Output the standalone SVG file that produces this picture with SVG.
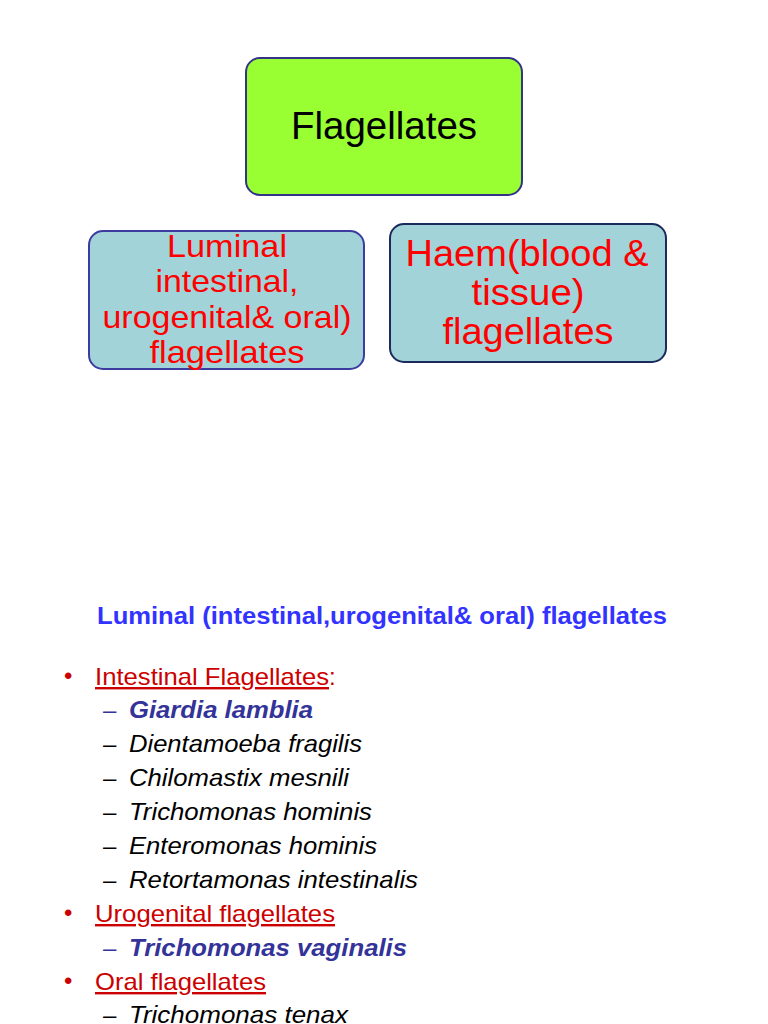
<svg xmlns="http://www.w3.org/2000/svg" width="768" height="1024" viewBox="0 0 768 1024">
<style>
text{font-family:"Liberation Sans",Arial,sans-serif}
.box{stroke-width:2}
.red{fill:#ff0000;font-size:32px;text-anchor:middle}
.haem{fill:#ff0000;font-size:37px;text-anchor:middle}
.head{fill:#cc0000;font-size:24px;text-decoration:underline}
.bul{fill:#cc0000;font-size:24px}
.sp{fill:#000;font-size:24px;font-style:italic}
.bb{fill:#333399;font-weight:bold}
.dash{font-size:24px;fill:#000}
</style>
<rect width="768" height="1024" fill="#fff"/>
<g id="flagellates">
<rect class="box" x="246" y="58" width="276" height="137" rx="14" fill="#99ff33" stroke="#333388"/>
<text x="384" y="139" font-size="38" text-anchor="middle" fill="#000" textLength="186" lengthAdjust="spacingAndGlyphs">Flagellates</text>
</g>
<g id="luminal">
<rect class="box" x="89" y="231" width="275" height="138" rx="14" fill="#a1d3d8" stroke="#3c3ca0"/>
<text class="red" x="227" y="257" textLength="120" lengthAdjust="spacingAndGlyphs">Luminal</text>
<text class="red" x="227" y="292" textLength="143" lengthAdjust="spacingAndGlyphs">intestinal,</text>
<text class="red" x="227" y="328" textLength="249" lengthAdjust="spacingAndGlyphs">urogenital&amp; oral)</text>
<text class="red" x="227" y="363" textLength="155" lengthAdjust="spacingAndGlyphs">flagellates</text>
</g>
<g id="haem">
<rect class="box" x="390" y="224" width="276" height="138" rx="14" fill="#a1d3d8" stroke="#1c2a5c"/>
<text class="haem" x="527" y="266" textLength="243" lengthAdjust="spacingAndGlyphs">Haem(blood &amp;</text>
<text class="haem" x="528" y="305" textLength="113" lengthAdjust="spacingAndGlyphs">tissue)</text>
<text class="haem" x="528" y="344" textLength="171" lengthAdjust="spacingAndGlyphs">flagellates</text>
</g>
<g id="connectors"></g>
<g id="list">
<text x="382" y="624" font-size="24" font-weight="bold" fill="#3333ff" text-anchor="middle" textLength="570" lengthAdjust="spacingAndGlyphs">Luminal (intestinal,urogenital&amp; oral) flagellates</text>
<text class="bul" x="64" y="684">•</text>
<text class="head" x="95" y="685" textLength="234" lengthAdjust="spacingAndGlyphs">Intestinal Flagellates</text>
<text x="329" y="685" font-size="24" fill="#cc0000">:</text>
<text class="dash" x="103" y="718" style="fill:#333399">–</text>
<text class="sp bb" x="129" y="718" textLength="184" lengthAdjust="spacingAndGlyphs">Giardia lamblia</text>
<text class="dash" x="103" y="752">–</text>
<text class="sp" x="129" y="752" textLength="233" lengthAdjust="spacingAndGlyphs">Dientamoeba fragilis</text>
<text class="dash" x="103" y="786">–</text>
<text class="sp" x="129" y="786" textLength="220" lengthAdjust="spacingAndGlyphs">Chilomastix mesnili</text>
<text class="dash" x="103" y="820">–</text>
<text class="sp" x="129" y="820" textLength="243" lengthAdjust="spacingAndGlyphs">Trichomonas hominis</text>
<text class="dash" x="103" y="854">–</text>
<text class="sp" x="129" y="854" textLength="248" lengthAdjust="spacingAndGlyphs">Enteromonas hominis</text>
<text class="dash" x="103" y="888">–</text>
<text class="sp" x="129" y="888" textLength="289" lengthAdjust="spacingAndGlyphs">Retortamonas intestinalis</text>
<text class="bul" x="64" y="921">•</text>
<text class="head" x="95" y="922" textLength="240" lengthAdjust="spacingAndGlyphs">Urogenital flagellates</text>
<text class="dash" x="103" y="956" style="fill:#333399">–</text>
<text class="sp bb" x="129" y="956" textLength="278" lengthAdjust="spacingAndGlyphs">Trichomonas vaginalis</text>
<text class="bul" x="64" y="989">•</text>
<text class="head" x="95" y="990" textLength="171" lengthAdjust="spacingAndGlyphs">Oral flagellates</text>
<text class="dash" x="103" y="1023">–</text>
<text class="sp" x="129" y="1023" textLength="219" lengthAdjust="spacingAndGlyphs">Trichomonas tenax</text>
</g>
</svg>
